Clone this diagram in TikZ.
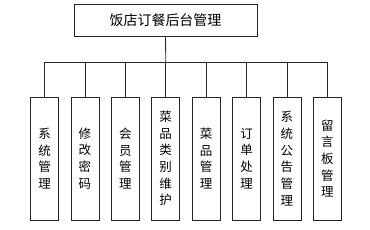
\documentclass[tikz,border=0pt]{standalone}
\usepackage{fontspec}
\newfontfamily\cjk{Noto Sans CJK SC}
\usepackage{tikz}
\usepackage{xcolor}
\definecolor{linegray}{gray}{0.15}

\begin{document}
\begin{tikzpicture}[
  x=1pt, y=-1pt,
  topbox/.style={draw=linegray, line width=0.8pt, minimum width=183pt, minimum height=32pt, inner sep=0pt, font=\cjk\fontsize{14}{16}\selectfont},
  subbox/.style={draw=linegray, line width=0.8pt, minimum width=28pt, minimum height=123pt, inner sep=0pt, align=center, font=\cjk\fontsize{12.5}{16.7}\selectfont},
  conn/.style={draw=linegray, line width=0.8pt}
]
  \useasboundingbox (0,0) rectangle (370,230);

  \node[topbox] (root) at (165.5,20) {饭店订餐后台管理};

  \node[subbox] (sys)   at (44.5,158.5)  {系\\统\\管\\理};
  \node[subbox] (pwd)   at (84.9,158.5)  {修\\改\\密\\码};
  \node[subbox] (mem)   at (125.3,158.5) {会\\员\\管\\理};
  \node[subbox] (cat)   at (165.7,158.5) {菜\\品\\类\\别\\维\\护};
  \node[subbox] (dish)  at (206.1,158.5) {菜\\品\\管\\理};
  \node[subbox] (order) at (246.5,158.5) {订\\单\\处\\理};
  \node[subbox] (note)  at (286.9,158.5) {系\\统\\公\\告\\管\\理};
  \node[subbox] (board) at (327.3,158.5) {留\\言\\板\\管\\理};

  \coordinate (bus) at (165.7,62.3);
  \draw[conn] (root) -- (bus);
  \draw[conn] (bus) -| (sys);
  \draw[conn] (bus) -| (pwd);
  \draw[conn] (bus) -| (mem);
  \draw[conn] (bus) -- (cat);
  \draw[conn] (bus) -| (dish);
  \draw[conn] (bus) -| (order);
  \draw[conn] (bus) -| (note);
  \draw[conn] (bus) -| (board);
\end{tikzpicture}
\end{document}
